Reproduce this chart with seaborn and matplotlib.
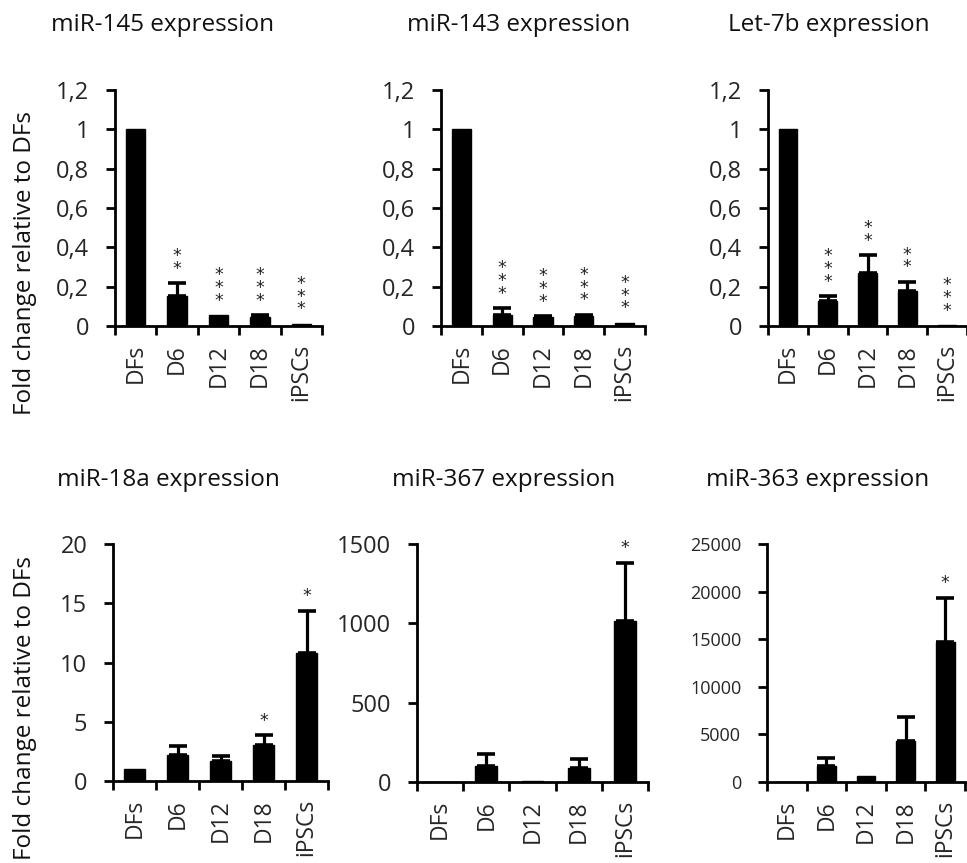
import numpy as np
import pandas as pd
import matplotlib
matplotlib.use("Agg")
import matplotlib.pyplot as plt
from matplotlib.ticker import FuncFormatter, FixedLocator, MultipleLocator
import seaborn as sns

categories = ["DFs", "D6", "D12", "D18", "iPSCs"]

mir145 = [1.0, 0.153, 0.055, 0.045, 0.01]
mir145_err = [0.0, 0.064, 0.0, 0.01, 0.0]
mir145_sig = ["", "**", "***", "***", "***"]

mir143 = [1.0, 0.056, 0.046, 0.05, 0.015]
mir143_err = [0.0, 0.034, 0.004, 0.007, 0.0]
mir143_sig = ["", "***", "***", "***", "***"]

let7b = [1.0, 0.128, 0.27, 0.18, 0.003]
let7b_err = [0.0, 0.024, 0.09, 0.045, 0.0]
let7b_sig = ["", "***", "**", "**", "***"]

mir18a = [1.0, 2.2, 1.7, 3.05, 10.8]
mir18a_err = [0.0, 0.75, 0.45, 0.82, 3.55]
mir18a_sig = ["", "", "", "*", "*"]

mir367 = [1.0, 99.0, 5.0, 90.0, 1016.0]
mir367_err = [0.0, 76.0, 0.0, 57.0, 366.0]
mir367_sig = ["", "", "", "", "*"]

mir363 = [1.0, 1680.0, 600.0, 4300.0, 14700.0]
mir363_err = [0.0, 840.0, 0.0, 2520.0, 4650.0]
mir363_sig = ["", "", "", "", "*"]

titles = ["miR-145 expression", "miR-143 expression", "Let-7b expression",
          "miR-18a expression", "miR-367 expression", "miR-363 expression"]
ylabel = "Fold change relative to DFs"

sns.set_theme(style="white")
plt.rcParams["font.family"] = ["Open Sans", "DejaVu Sans"]

fig = plt.figure(figsize=(9.67, 8.63), dpi=100)
W, H = 967.0, 863.0

def rect(x0, x1, y_top, y_bot):
    return [x0 / W, 1 - y_bot / H, (x1 - x0) / W, (y_bot - y_top) / H]

panels = [
    (mir145, mir145_err, mir145_sig, rect(115, 322, 90, 326), (0, 1.2), 0.2, 17, (51, 25)),
    (mir143, mir143_err, mir143_sig, rect(441, 645, 90, 326), (0, 1.2), 0.2, 17, (407, 25)),
    (let7b, let7b_err, let7b_sig, rect(768, 967, 90, 326), (0, 1.2), 0.2, 17, (728, 25)),
    (mir18a, mir18a_err, mir18a_sig, rect(113, 328, 544, 781), (0, 20), 5, 17, (57, 480)),
    (mir367, mir367_err, mir367_sig, rect(417, 648, 544, 782), (0, 1500), 500, 17, (392, 480)),
    (mir363, mir363_err, mir363_sig, rect(767, 965, 544, 782), (0, 25000), 5000, 13, (706, 480)),
]

fmt = FuncFormatter(lambda v, _: f"{v:g}".replace(".", ","))

for (vals, errs, sig, r, ylim, step, tfs, tpos), title in zip(panels, titles):
    ax = fig.add_axes(r)
    df = pd.DataFrame({"group": categories, "value": vals})
    sns.barplot(data=df, x="group", y="value", order=categories, color="black",
                width=0.47, errorbar=None, ax=ax, saturation=1)
    for p in ax.patches:
        p.set_edgecolor("black")
    xs = np.arange(len(categories))
    e = np.array(errs)
    mask = e > 0
    ax.errorbar(xs[mask], np.array(vals)[mask], yerr=[np.zeros(mask.sum()), e[mask]],
                fmt="none", ecolor="black", elinewidth=2.3, capsize=6.8, capthick=2.6)
    for i, s in enumerate(sig):
        if s:
            top = vals[i] + errs[i]
            ax.annotate("\n".join(s), xy=(i, top), xytext=(0, 4), textcoords="offset points",
                        ha="center", va="bottom", fontsize=12.5, linespacing=0.62,
                        color="#222222", family=["DejaVu Sans"])
    ax.set_xlim(-0.5, 4.5)
    ax.set_ylim(*ylim)
    ax.yaxis.set_major_locator(MultipleLocator(step))
    ax.yaxis.set_major_formatter(fmt)
    ax.set_xlabel("")
    ax.set_ylabel("")
    ax.set_xticks(xs)
    ax.set_xticklabels(categories, rotation=90, fontsize=16.5)
    ax.xaxis.set_minor_locator(FixedLocator(np.arange(-0.5, 5, 1.0)))
    ax.tick_params(axis="x", which="major", length=0, pad=13)
    ax.tick_params(axis="x", which="minor", bottom=True, length=6.5, width=2.0, direction="out", color="black")
    ax.tick_params(axis="y", which="major", left=True, length=6.5, width=2.0, direction="out",
                   color="black", labelsize=tfs, pad=12)
    for side in ["top", "right"]:
        ax.spines[side].set_visible(False)
    for side in ["left", "bottom"]:
        ax.spines[side].set_color("black")
        ax.spines[side].set_linewidth(2.0)
    ax.set_facecolor("white")
    fig.text(tpos[0] / W, 1 - tpos[1] / H, title, fontsize=17.5, ha="left", va="center",
             color="#111111")

fig.text(25 / W, 1 - 263 / H, ylabel, rotation=90, fontsize=17.5, ha="center", va="center",
         color="#111111")
fig.text(25 / W, 1 - 708 / H, ylabel, rotation=90, fontsize=17.5, ha="center", va="center",
         color="#111111")

fig.savefig("out.png", dpi=100, facecolor="white")
